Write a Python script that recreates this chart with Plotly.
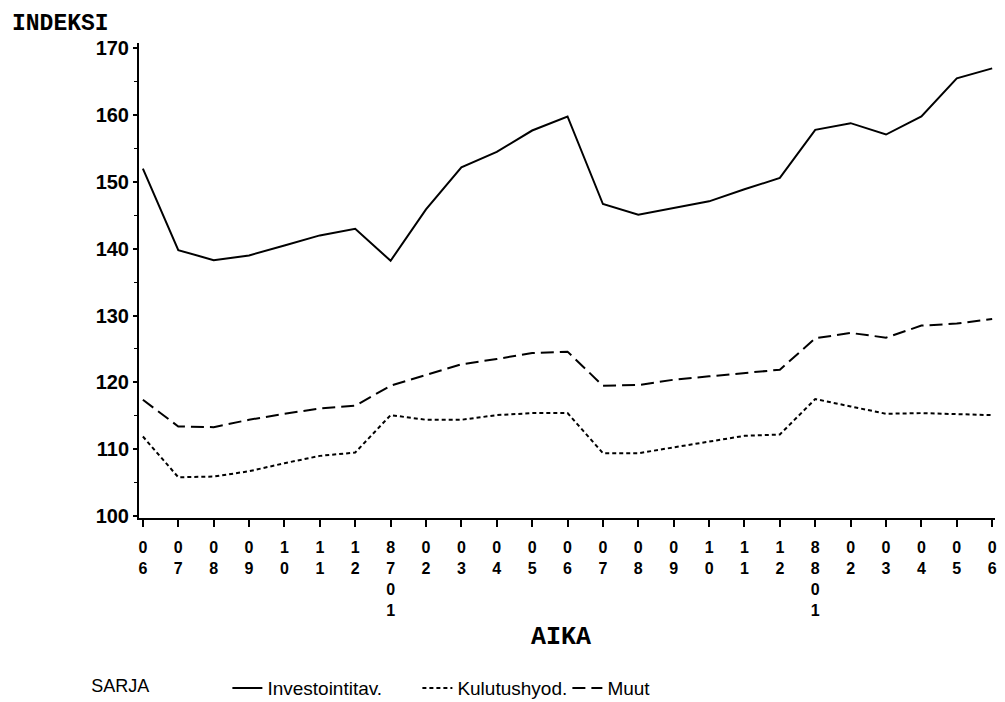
import plotly.graph_objects as go

# Month categories (x-axis), rendered as vertically stacked characters
periods = ["06", "07", "08", "09", "10", "11", "12", "8701", "02", "03", "04", "05",
           "06", "07", "08", "09", "10", "11", "12", "8801", "02", "03", "04", "05", "06"]

investointitav = [152.0, 139.8, 138.3, 139.0, 140.5, 142.0, 143.0, 138.2, 145.9, 152.2,
                  154.5, 157.7, 159.8, 146.7, 145.1, 146.1, 147.1, 148.9, 150.6, 157.8,
                  158.8, 157.1, 159.8, 165.5, 167.0]
kulutushyod = [111.9, 105.8, 105.9, 106.7, 107.9, 109.0, 109.5, 115.1, 114.4, 114.4,
               115.1, 115.4, 115.4, 109.4, 109.4, 110.3, 111.2, 112.0, 112.2, 117.5,
               116.4, 115.3, 115.4, 115.2, 115.1]
muut = [117.4, 113.4, 113.3, 114.4, 115.3, 116.1, 116.5, 119.5, 121.1, 122.7,
        123.5, 124.4, 124.6, 119.5, 119.6, 120.4, 120.9, 121.4, 121.9, 126.6,
        127.4, 126.7, 128.5, 128.8, 129.5]

y_ticks = [100, 110, 120, 130, 140, 150, 160, 170]

x_idx = list(range(len(periods)))
tick_text = ["<br>".join(list(p)) for p in periods]
NB = "\u00a0"

fig = go.Figure()
fig.add_trace(go.Scatter(x=x_idx, y=investointitav, mode="lines", name="Investointitav.",
                         legendwidth=145,
                         line=dict(color="black", width=2)))
fig.add_trace(go.Scatter(x=x_idx, y=kulutushyod, mode="lines", name="Kulutushyod.",
                         legendwidth=105,
                         line=dict(color="black", width=2, dash="4px,3px")))
fig.add_trace(go.Scatter(x=x_idx, y=muut, mode="lines", name="Muut",
                         line=dict(color="black", width=2, dash="13px,6px")))

fig.update_layout(
    width=1005, height=702,
    margin=dict(l=131, r=18, t=35, b=192, autoexpand=False),
    paper_bgcolor="white", plot_bgcolor="white",
    font=dict(family="Liberation Sans", color="black"),
    showlegend=True,
    legend=dict(
        orientation="h", x=-0.058, y=-0.358, xanchor="left", yanchor="middle",
        title=dict(text="SARJA" + NB * 14, font=dict(size=18, family="Liberation Sans")),
        font=dict(size=19, family="Liberation Sans"),
        bgcolor="rgba(0,0,0,0)",
    ),
    annotations=[
        dict(text="<b>INDEKSI</b>", xref="paper", yref="paper",
             x=-0.151, y=1.072, xanchor="left", yanchor="top", showarrow=False,
             font=dict(family="Liberation Mono", size=23, color="black")),
        dict(text="<b>AIKA</b>", xref="paper", yref="paper",
             x=0.493, y=-0.252, xanchor="center", yanchor="middle", showarrow=False,
             font=dict(family="Liberation Mono", size=25, color="black")),
    ],
)

fig.update_xaxes(
    range=[-0.11, 24.08], tickmode="array", tickvals=x_idx, ticktext=tick_text,
    showgrid=False, zeroline=False, showline=True, linecolor="black", linewidth=2,
    ticks="outside", ticklen=7, tickwidth=2, tickcolor="black", ticklabelstandoff=7,
    tickfont=dict(size=16, family="Liberation Sans", weight="bold"),
)
fig.update_yaxes(
    range=[99.7, 170.8], tickmode="array", tickvals=y_ticks,
    showgrid=False, zeroline=False, showline=True, linecolor="black", linewidth=2,
    ticks="outside", ticklen=4, tickwidth=2, tickcolor="black",
    minor=dict(dtick=5, ticks="outside", ticklen=3, tickcolor="black", tickwidth=1),
    tickfont=dict(size=20, family="Liberation Sans", weight="bold"),
)

fig.write_html("out.html")
